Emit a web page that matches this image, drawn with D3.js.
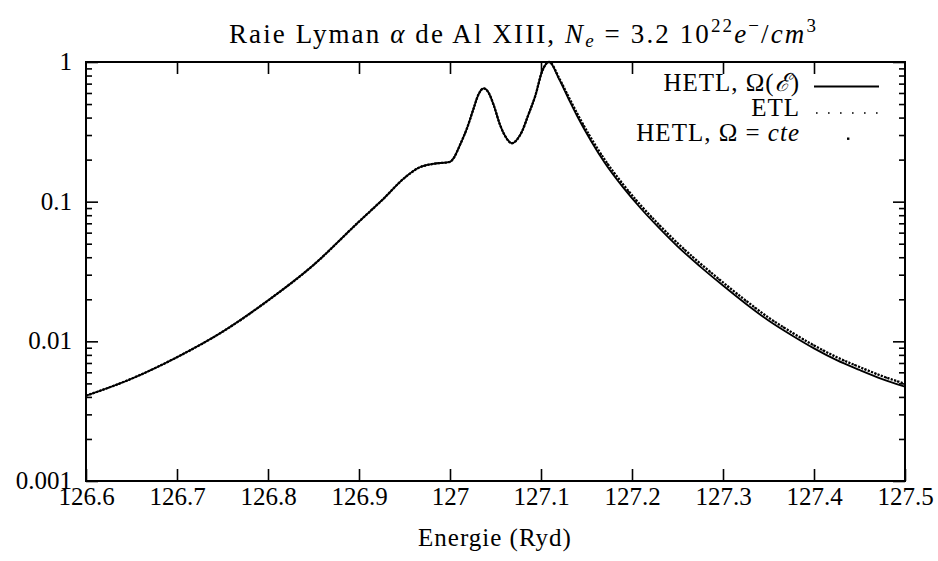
<!DOCTYPE html>
<html>
<head>
<meta charset="utf-8">
<script src="https://cdn.jsdelivr.net/npm/d3@7"></script>
</head>
<body style="margin:0;background:#fff">
<svg id="chart" width="938" height="561" font-family="Liberation Serif" font-size="25"></svg>
<script>
// Lyman alpha profile of Al XIII, intensity (normalised) vs photon energy (Ryd)
const energyHETL = [126.600, 126.650, 126.700, 126.750, 126.800, 126.850, 126.900, 126.925, 126.950,
  126.965, 126.980, 127.000, 127.004, 127.011, 127.019, 127.026, 127.031, 127.037, 127.042,
  127.048, 127.055, 127.061, 127.068, 127.074, 127.079, 127.086, 127.094, 127.101, 127.109,
  127.120, 127.130, 127.140, 127.155, 127.170, 127.190, 127.210, 127.230, 127.250, 127.275,
  127.300, 127.325, 127.350, 127.375, 127.400, 127.425, 127.450, 127.475, 127.500];
const valueHETL = [0.00408, 0.0054, 0.0077, 0.0117, 0.0196, 0.0352, 0.0720, 0.1020, 0.1480,
  0.1740, 0.1860, 0.1930, 0.2050, 0.2550, 0.3400, 0.4660, 0.5800, 0.6480, 0.6100,
  0.4920, 0.3540, 0.2920, 0.2620, 0.2800, 0.3170, 0.4170, 0.5800, 0.8500, 1.0000,
  0.7500, 0.5500, 0.4070, 0.2720, 0.1900, 0.1270, 0.0890, 0.0646, 0.0479, 0.0343,
  0.0251, 0.0186, 0.0141, 0.0111, 0.0089, 0.00733, 0.00624, 0.00537, 0.00473];

const energyETL = energyHETL;
const valueETL = [0.00408, 0.0054, 0.0077, 0.0117, 0.0196, 0.0352, 0.0720, 0.1020, 0.1480,
  0.1740, 0.1860, 0.1930, 0.2050, 0.2550, 0.3400, 0.4660, 0.5800, 0.6480, 0.6100,
  0.4920, 0.3540, 0.2920, 0.2620, 0.2800, 0.3170, 0.4170, 0.5800, 0.8500, 1.0000,
  0.7600, 0.5650, 0.4230, 0.2840, 0.1990, 0.1330, 0.0932, 0.0678, 0.0503, 0.0360,
  0.0263, 0.0195, 0.0148, 0.01163, 0.00932, 0.00768, 0.00654, 0.00562, 0.00495];

const energyCte = energyHETL;
const valueCte = [0.00408, 0.0054, 0.0077, 0.0117, 0.0196, 0.0352, 0.0720, 0.1020, 0.1480,
  0.1740, 0.1860, 0.1930, 0.2050, 0.2550, 0.3400, 0.4660, 0.5800, 0.6480, 0.6100,
  0.4920, 0.3540, 0.2920, 0.2620, 0.2800, 0.3170, 0.4170, 0.5800, 0.8500, 1.0000,
  0.7650, 0.5680, 0.4250, 0.2850, 0.2000, 0.1335, 0.0935, 0.0680, 0.0505, 0.0361,
  0.0264, 0.0196, 0.0148, 0.01165, 0.00935, 0.0077, 0.00655, 0.00564, 0.00497];

const xTicks = [126.6, 126.7, 126.8, 126.9, 127, 127.1, 127.2, 127.3, 127.4, 127.5];
const xTickLabels = ["126.6", "126.7", "126.8", "126.9", "127", "127.1", "127.2", "127.3", "127.4", "127.5"];
const yTicks = [1, 0.1, 0.01, 0.001];
const yTickLabels = ["1", "0.1", "0.01", "0.001"];

const FONT = "Liberation Serif";
const FS = 25;
const L = 86, R = 905, T = 62, B = 481;
const svg = d3.select("#chart");
const x = d3.scaleLinear().domain([126.6, 127.5]).range([L, R]);
const y = d3.scaleLog().domain([0.001, 1]).range([B, T]);

// minor log ticks 2..9 in each decade
const yMinor = [];
[0.001, 0.01, 0.1].forEach(d => { for (let k = 2; k <= 9; k++) yMinor.push(d * k); });

const tickStyle = g => g.selectAll("line").attr("stroke", "#000").attr("stroke-width", 1.6);
const textStyle = g => g.attr("font-family", FONT).attr("font-size", FS)
  .selectAll("text").attr("fill", "#000").attr("font-family", FONT).attr("font-size", FS);

// bottom axis with labels, ticks pointing inward
svg.append("g").attr("transform", `translate(0,${B})`)
  .call(d3.axisBottom(x).tickValues(xTicks).tickSize(-12)
    .tickFormat((d, i) => xTickLabels[i]))
  .call(g => g.select(".domain").remove())
  .call(tickStyle)
  .call(textStyle)
  .call(g => g.selectAll("text").attr("dy", 0).attr("y", 24));

// top mirror ticks
svg.append("g").attr("transform", `translate(0,${T})`)
  .call(d3.axisTop(x).tickValues(xTicks.slice(1, -1)).tickSize(-12).tickFormat(""))
  .call(g => g.select(".domain").remove())
  .call(tickStyle);

// left axis: major ticks with labels
svg.append("g").attr("transform", `translate(${L},0)`)
  .call(d3.axisLeft(y).tickValues(yTicks).tickSize(-12).tickPadding(14)
    .tickFormat((d, i) => yTickLabels[i]))
  .call(g => g.select(".domain").remove())
  .call(tickStyle)
  .call(textStyle)
  .call(g => g.selectAll("text").attr("dy", "0.3em"));
svg.append("g").attr("transform", `translate(${L},0)`)
  .call(d3.axisLeft(y).tickValues(yMinor).tickSize(-6).tickFormat(""))
  .call(g => g.select(".domain").remove())
  .call(tickStyle);

// right mirror ticks
svg.append("g").attr("transform", `translate(${R},0)`)
  .call(d3.axisRight(y).tickValues(yTicks).tickSize(-12).tickFormat(""))
  .call(g => g.select(".domain").remove())
  .call(tickStyle);
svg.append("g").attr("transform", `translate(${R},0)`)
  .call(d3.axisRight(y).tickValues(yMinor).tickSize(-6).tickFormat(""))
  .call(g => g.select(".domain").remove())
  .call(tickStyle);

// plot frame
svg.append("rect").attr("x", L).attr("y", T).attr("width", R - L).attr("height", B - T)
  .attr("fill", "none").attr("stroke", "#000").attr("stroke-width", 2);

svg.append("clipPath").attr("id", "plotclip")
  .append("rect").attr("x", L).attr("y", T - 2).attr("width", R - L).attr("height", B - T + 2);

const makeLine = (es, vs) => d3.line()
  .x((d, i) => x(es[i])).y(d => y(d)).curve(d3.curveMonotoneX)(vs);

const plot = svg.append("g").attr("clip-path", "url(#plotclip)");

// HETL, Omega = cte : dense dots
plot.append("path").attr("d", makeLine(energyCte, valueCte))
  .attr("fill", "none").attr("stroke", "#000").attr("stroke-width", 2.3)
  .attr("stroke-dasharray", "2.2 1.3");
// ETL : dotted line
plot.append("path").attr("d", makeLine(energyETL, valueETL))
  .attr("fill", "none").attr("stroke", "#000").attr("stroke-width", 1.5)
  .attr("stroke-dasharray", "1.5 10");
// HETL, Omega(E) : solid
plot.append("path").attr("d", makeLine(energyHETL, valueHETL))
  .attr("fill", "none").attr("stroke", "#000").attr("stroke-width", 1.8);

// legend
const txt = (sel) => sel.attr("font-family", FONT).attr("font-size", FS).attr("fill", "#000");
const leg = svg.append("g");
const lx = 800;
const t1 = leg.append("text").attr("x", lx).attr("y", 91).attr("text-anchor", "end")
  .attr("letter-spacing", 1).call(txt);
t1.append("tspan").text("HETL, Ω(");
t1.append("tspan").attr("font-style", "italic").text("ℰ");
t1.append("tspan").text(")");
leg.append("line").attr("x1", 814).attr("x2", 879).attr("y1", 86.5).attr("y2", 86.5)
  .attr("stroke", "#000").attr("stroke-width", 1.8);

leg.append("text").attr("x", lx).attr("y", 116).attr("text-anchor", "end")
  .attr("letter-spacing", 1).call(txt).text("ETL");
leg.append("line").attr("x1", 816).attr("x2", 880).attr("y1", 113).attr("y2", 113)
  .attr("stroke", "#000").attr("stroke-width", 1.6).attr("stroke-dasharray", "1.6 10.4");

const t3 = leg.append("text").attr("x", lx).attr("y", 141).attr("text-anchor", "end")
  .attr("letter-spacing", 1).call(txt);
t3.append("tspan").text("HETL, Ω = ");
t3.append("tspan").attr("font-style", "italic").text("cte");
leg.append("rect").attr("x", 847).attr("y", 137.5).attr("width", 2.4).attr("height", 2.4).attr("fill", "#000");

// title, widened with letter spacing to its full span
const title = svg.append("text").attr("x", 229).attr("y", 43).attr("text-anchor", "start")
  .call(txt).attr("font-size", 27);
title.append("tspan").text("Raie Lyman ");
title.append("tspan").attr("font-style", "italic").text("α");
title.append("tspan").text(" de Al XIII, ");
title.append("tspan").attr("font-style", "italic").text("N");
title.append("tspan").attr("font-style", "italic").attr("font-size", 19).attr("dy", 4).text("e");
title.append("tspan").attr("dy", -4).text(" = 3.2 10");
title.append("tspan").attr("font-size", 19).attr("dy", -11).text("22");
title.append("tspan").attr("font-style", "italic").attr("dy", 11).text("e");
title.append("tspan").attr("font-size", 19).attr("dy", -11).text("−");
title.append("tspan").attr("dy", 11).text("/");
title.append("tspan").attr("font-style", "italic").text("cm");
title.append("tspan").attr("font-size", 19).attr("dy", -11).text("3");
{
  const node = title.node();
  const w = node.getComputedTextLength();
  const n = node.textContent.length;
  if (w > 0 && n > 1) title.attr("letter-spacing", Math.max(0, (589 - w) / n));
}

// x axis title
svg.append("text").attr("x", 495).attr("y", 546).attr("text-anchor", "middle")
  .attr("letter-spacing", 1).call(txt).text("Energie (Ryd)");
</script>
</body>
</html>
